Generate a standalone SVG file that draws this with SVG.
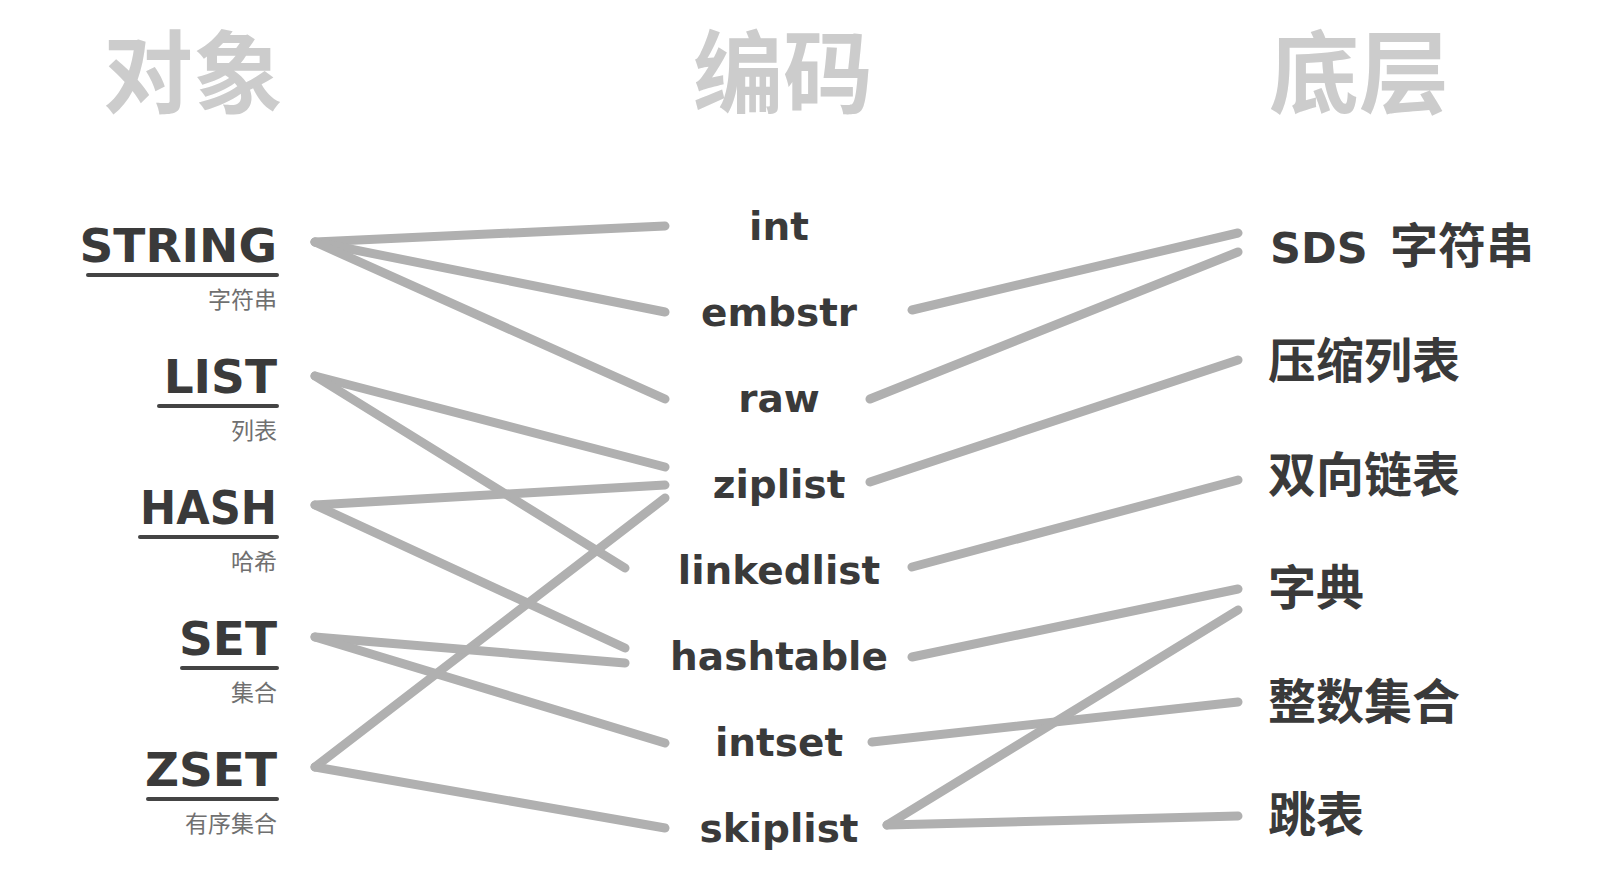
<svg xmlns="http://www.w3.org/2000/svg" width="1615" height="876" viewBox="0 0 1615 876">
<style>
.title{font-family:"Noto Sans CJK SC",sans-serif;font-size:90px;fill:#cccccc;text-anchor:middle;font-weight:700}
.obj{font-family:"DejaVu Sans",sans-serif;font-weight:bold;font-size:47px;fill:#3a3a3a;text-anchor:end}
.sub{font-family:"Noto Sans CJK SC",sans-serif;font-size:23px;fill:#707070;text-anchor:end}
.enc{font-family:"DejaVu Sans",sans-serif;font-weight:bold;font-size:39px;fill:#3a3a3a;text-anchor:middle}
.low{font-family:"Noto Sans CJK SC",sans-serif;font-weight:bold;font-size:48px;fill:#3a3a3a}
.lat{font-family:"DejaVu Sans",sans-serif;font-weight:bold;font-size:43px}
.ul{stroke:#444444;stroke-width:4;stroke-linecap:round}
#connectors line{stroke:#b0b0b0;stroke-width:9;stroke-linecap:round}
</style>
<rect width="1615" height="876" fill="#ffffff"/>
<g id="titles">
<text class="title" x="193" y="106">对象</text>
<text class="title" x="783" y="106">编码</text>
<text class="title" x="1359" y="106">底层</text>
</g>
<g id="connectors">
<line x1="315" y1="242" x2="665" y2="226"/>
<line x1="315" y1="242" x2="665" y2="312"/>
<line x1="315" y1="242" x2="665" y2="399"/>
<line x1="315" y1="376" x2="665" y2="467"/>
<line x1="315" y1="376" x2="625" y2="568"/>
<line x1="315" y1="505" x2="665" y2="485"/>
<line x1="315" y1="505" x2="625" y2="648"/>
<line x1="665" y1="498" x2="315" y2="767"/>
<line x1="315" y1="637" x2="625" y2="663"/>
<line x1="315" y1="637" x2="665" y2="743"/>
<line x1="315" y1="767" x2="665" y2="828"/>
<line x1="912" y1="310" x2="1238" y2="233"/>
<line x1="870" y1="399" x2="1238" y2="252"/>
<line x1="870" y1="482" x2="1238" y2="360"/>
<line x1="912" y1="567" x2="1238" y2="480"/>
<line x1="912" y1="657" x2="1238" y2="589"/>
<line x1="872" y1="742" x2="1238" y2="702"/>
<line x1="887" y1="825" x2="1238" y2="610"/>
<line x1="887" y1="825" x2="1238" y2="816"/>
</g>
<g id="obj-string"><text class="obj" x="277" y="262">STRING</text><line class="ul" x1="88" y1="275" x2="277" y2="275"/><text class="sub" x="277" y="308">字符串</text></g>
<g id="obj-list"><text class="obj" x="277" y="393">LIST</text><line class="ul" x1="159" y1="406" x2="277" y2="406"/><text class="sub" x="277" y="439">列表</text></g>
<g id="obj-hash"><text class="obj" x="277" y="524" textLength="137" lengthAdjust="spacingAndGlyphs">HASH</text><line class="ul" x1="140" y1="537" x2="277" y2="537"/><text class="sub" x="277" y="570">哈希</text></g>
<g id="obj-set"><text class="obj" x="277" y="655">SET</text><line class="ul" x1="182" y1="668" x2="277" y2="668"/><text class="sub" x="277" y="701">集合</text></g>
<g id="obj-zset"><text class="obj" x="277" y="786">ZSET</text><line class="ul" x1="148" y1="799" x2="277" y2="799"/><text class="sub" x="277" y="832">有序集合</text></g>
<g id="enc-int"><text class="enc" x="779" y="240">int</text></g>
<g id="enc-embstr"><text class="enc" x="779" y="326">embstr</text></g>
<g id="enc-raw"><text class="enc" x="779" y="412">raw</text></g>
<g id="enc-ziplist"><text class="enc" x="779" y="498">ziplist</text></g>
<g id="enc-linkedlist"><text class="enc" x="779" y="584">linkedlist</text></g>
<g id="enc-hashtable"><text class="enc" x="779" y="670">hashtable</text></g>
<g id="enc-intset"><text class="enc" x="779" y="756">intset</text></g>
<g id="enc-skiplist"><text class="enc" x="779" y="842">skiplist</text></g>
<g id="low-sds"><text class="low" x="1270" y="263"><tspan class="lat">SDS</tspan><tspan x="1390">字符串</tspan></text></g>
<g id="low-ziplist"><text class="low" x="1268" y="378">压缩列表</text></g>
<g id="low-linkedlist"><text class="low" x="1268" y="492">双向链表</text></g>
<g id="low-dict"><text class="low" x="1268" y="605">字典</text></g>
<g id="low-intset"><text class="low" x="1268" y="719">整数集合</text></g>
<g id="low-skiplist"><text class="low" x="1268" y="832">跳表</text></g>
</svg>
